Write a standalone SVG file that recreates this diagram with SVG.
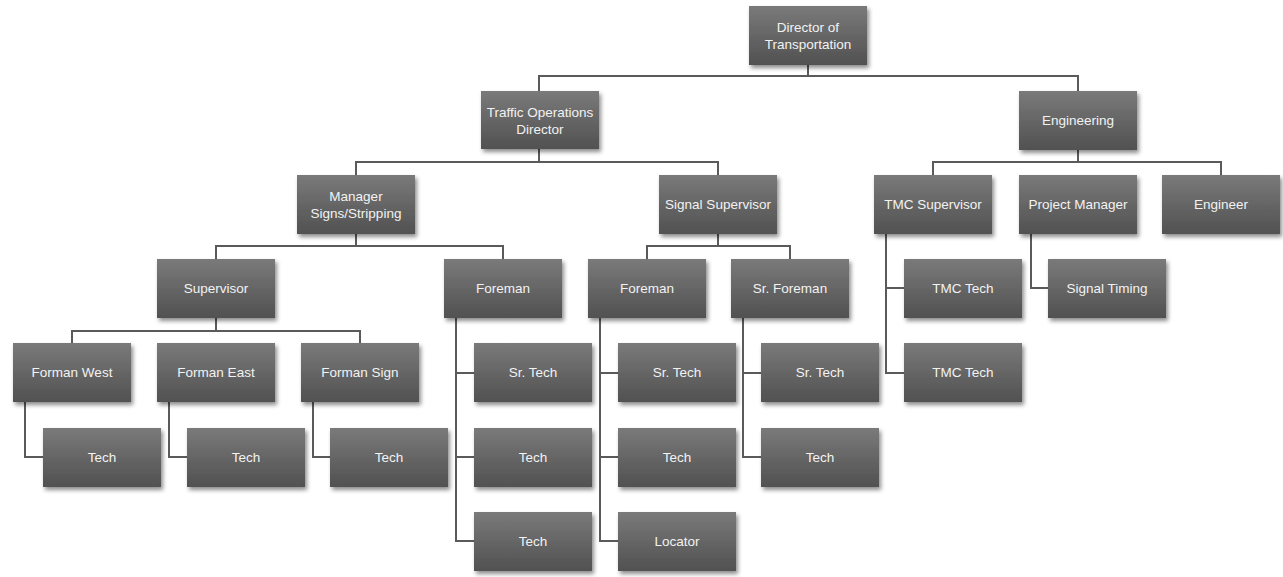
<svg xmlns="http://www.w3.org/2000/svg" width="1283" height="577" viewBox="0 0 1283 577">
<defs>
<linearGradient id="g" x1="0" y1="0" x2="0" y2="1">
<stop offset="0" stop-color="#7a7a7a"/>
<stop offset="1" stop-color="#515151"/>
</linearGradient>
<filter id="sh" x="-10%" y="-10%" width="125%" height="135%">
<feDropShadow dx="2" dy="3" stdDeviation="2" flood-color="#000" flood-opacity="0.45"/>
</filter>
<style>
.b{fill:url(#g);filter:url(#sh)}
.t{font-family:"Liberation Sans",Arial,sans-serif;font-size:13.5px;fill:#f2f2f2;text-anchor:middle}
.c{fill:none;stroke:#5a5a5a;stroke-width:2}
</style>
</defs>
<rect width="1283" height="577" fill="#ffffff"/>
<g id="connectors" class="c">
<path d="M808 65V76M539 91V76H1078V91"/>
<path d="M539 149V162M356 175V162H718V175"/>
<path d="M1078 150V162M933 175V162H1221V175"/>
<path d="M356 234V246M216 259V246H503V259"/>
<path d="M718 234V246M647 259V246H790V259"/>
<path d="M216 318V331M72 343V331H360V343"/>
<path d="M25 402V457H43M169 402V457H187M313 402V457H330"/>
<path d="M456 318V541H474M456 373H474M456 457H474"/>
<path d="M600 318V541H618M600 373H618M600 457H618"/>
<path d="M743 318V457H761M743 373H761"/>
<path d="M886 234V373H904M886 288H904"/>
<path d="M1031 234V288H1048"/>
</g>
<g id="director"><rect class="b" x="749" y="6" width="118" height="59"/><text class="t" x="808" y="32">Director of</text><text class="t" x="808" y="49">Transportation</text></g>
<g id="traffic-ops"><rect class="b" x="481" y="91" width="118" height="58"/><text class="t" x="540" y="117">Traffic Operations</text><text class="t" x="540" y="134">Director</text></g>
<g id="engineering"><rect class="b" x="1019" y="91" width="118" height="59"/><text class="t" x="1078" y="125">Engineering</text></g>
<g id="manager"><rect class="b" x="297" y="175" width="118" height="59"/><text class="t" x="356" y="201">Manager</text><text class="t" x="356" y="218">Signs/Stripping</text></g>
<g id="signal-sup"><rect class="b" x="659" y="175" width="118" height="59"/><text class="t" x="718" y="209">Signal Supervisor</text></g>
<g id="tmc-sup"><rect class="b" x="874" y="175" width="118" height="59"/><text class="t" x="933" y="209">TMC Supervisor</text></g>
<g id="proj-mgr"><rect class="b" x="1019" y="175" width="118" height="59"/><text class="t" x="1078" y="209">Project Manager</text></g>
<g id="engineer"><rect class="b" x="1162" y="175" width="118" height="59"/><text class="t" x="1221" y="209">Engineer</text></g>
<g id="supervisor"><rect class="b" x="157" y="259" width="118" height="59"/><text class="t" x="216" y="293">Supervisor</text></g>
<g id="foreman1"><rect class="b" x="444" y="259" width="118" height="59"/><text class="t" x="503" y="293">Foreman</text></g>
<g id="foreman2"><rect class="b" x="588" y="259" width="118" height="59"/><text class="t" x="647" y="293">Foreman</text></g>
<g id="sr-foreman"><rect class="b" x="731" y="259" width="118" height="59"/><text class="t" x="790" y="293">Sr. Foreman</text></g>
<g id="tmc-tech1"><rect class="b" x="904" y="259" width="118" height="59"/><text class="t" x="963" y="293">TMC Tech</text></g>
<g id="signal-timing"><rect class="b" x="1048" y="259" width="118" height="59"/><text class="t" x="1107" y="293">Signal Timing</text></g>
<g id="forman-west"><rect class="b" x="13" y="343" width="118" height="59"/><text class="t" x="72" y="377">Forman West</text></g>
<g id="forman-east"><rect class="b" x="157" y="343" width="118" height="59"/><text class="t" x="216" y="377">Forman East</text></g>
<g id="forman-sign"><rect class="b" x="301" y="343" width="118" height="59"/><text class="t" x="360" y="377">Forman Sign</text></g>
<g id="sr-tech1"><rect class="b" x="474" y="343" width="118" height="59"/><text class="t" x="533" y="377">Sr. Tech</text></g>
<g id="sr-tech2"><rect class="b" x="618" y="343" width="118" height="59"/><text class="t" x="677" y="377">Sr. Tech</text></g>
<g id="sr-tech3"><rect class="b" x="761" y="343" width="118" height="59"/><text class="t" x="820" y="377">Sr. Tech</text></g>
<g id="tmc-tech2"><rect class="b" x="904" y="343" width="118" height="59"/><text class="t" x="963" y="377">TMC Tech</text></g>
<g id="tech1"><rect class="b" x="43" y="428" width="118" height="59"/><text class="t" x="102" y="462">Tech</text></g>
<g id="tech2"><rect class="b" x="187" y="428" width="118" height="59"/><text class="t" x="246" y="462">Tech</text></g>
<g id="tech3"><rect class="b" x="330" y="428" width="118" height="59"/><text class="t" x="389" y="462">Tech</text></g>
<g id="tech4"><rect class="b" x="474" y="428" width="118" height="59"/><text class="t" x="533" y="462">Tech</text></g>
<g id="tech5"><rect class="b" x="618" y="428" width="118" height="59"/><text class="t" x="677" y="462">Tech</text></g>
<g id="tech6"><rect class="b" x="761" y="428" width="118" height="59"/><text class="t" x="820" y="462">Tech</text></g>
<g id="tech7"><rect class="b" x="474" y="512" width="118" height="59"/><text class="t" x="533" y="546">Tech</text></g>
<g id="locator"><rect class="b" x="618" y="512" width="118" height="59"/><text class="t" x="677" y="546">Locator</text></g>
</svg>
